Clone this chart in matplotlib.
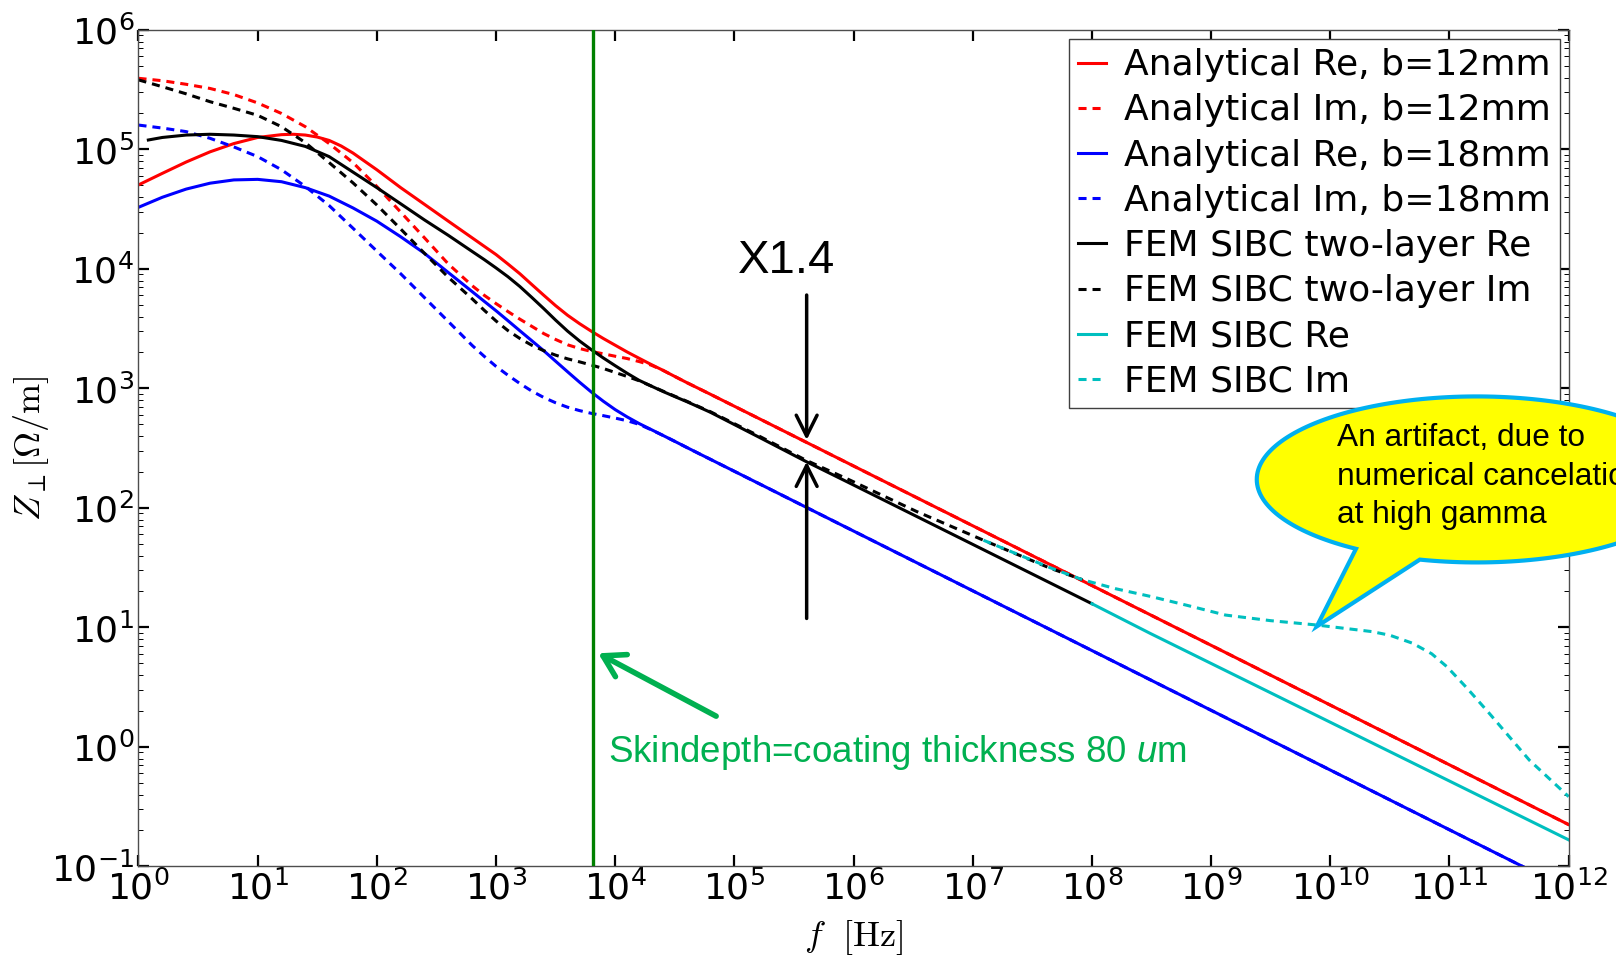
import numpy as np
import matplotlib
matplotlib.use("Agg")
import matplotlib.pyplot as plt
from matplotlib.path import Path
from matplotlib.patches import PathPatch
from matplotlib.ticker import NullLocator
from matplotlib.transforms import Affine2D

plt.rcParams["font.family"] = ["DejaVu Sans"]
plt.rcParams["lines.scale_dashes"] = False
plt.rcParams["mathtext.rm"] = "Liberation Sans"
plt.rcParams["mathtext.it"] = "Liberation Sans:italic"

# --- data (f in Hz, Z in Ohm/m) ---
# frequencies at which the analytical curves were read
f_ana = [1, 1.585, 2.512, 3.981, 6.31, 10, 15.85, 25.12, 39.81, 63.1, 100, 158.5,
         251.2, 398.1, 631, 794.3, 1000, 1259, 1585, 1995, 2512, 3162, 3981, 5012,
         6310, 7943, 10000, 12590, 15850, 19950, 25120, 31620, 39810, 50120, 63100,
         158500, 1e12]

f_red_re = [1, 1.585, 2.512, 3.981, 6.31, 10, 15.85, 19.95, 25.12, 31.62, 39.81,
            50.12, 63.1, 79.43, 100, 158.5, 251.2, 398.1, 631, 794.3, 1000, 1259,
            1585, 1995, 2512, 3162, 3981, 5012, 6310, 7943, 10000, 12590, 15850,
            19950, 25120, 31620, 39810, 50120, 63100, 158500, 1e12]
z_red_re = [50500, 63100, 78500, 95500, 112000, 126000, 133000, 134000, 132000,
            127000, 119000, 107000, 93300, 79400, 67600, 47900, 34700, 25100,
            18200, 15500, 13200, 11000, 9120, 7410, 6030, 4930, 4100, 3490, 3010,
            2620, 2300, 2020, 1790, 1590, 1420, 1260, 1120, 1000, 893, 564, 0.224]

z_red_im = [394000, 376000, 351000, 324000, 288000, 245000, 200000, 155000, 112000,
            77600, 49000, 29900, 18200, 11000, 7240, 6030, 5130, 4400, 3800, 3310,
            2880, 2570, 2320, 2160, 2040, 1950, 1860, 1780, 1680, 1570, 1420, 1260,
            1120, 1000, 893, 564, 0.224]
z_blue_re = [32800, 39800, 46600, 52200, 55600, 56200, 53700, 47900, 40700, 32400,
             25100, 18600, 13500, 9330, 6460, 5370, 4470, 3690, 3040, 2510, 2070,
             1690, 1380, 1130, 933, 782, 665, 578, 509, 454, 405, 361, 321, 286,
             255, 161, 0.0641]
z_blue_im = [160000, 151000, 141000, 124000, 105000, 87100, 67600, 49000, 33900,
             21900, 14100, 9120, 5750, 3630, 2290, 1860, 1530, 1290, 1100, 951, 841,
             759, 697, 653, 619, 592, 565, 537, 501, 452, 405, 361, 321, 286, 255,
             161, 0.0641]

f_fem2_re = [1.21, 1.585, 2.512, 3.981, 6.31, 10, 15.85, 25.12, 39.81, 63.1, 100,
             158.5, 251.2, 398.1, 631, 794.3, 1000, 1259, 1585, 1995, 2512, 3162,
             3981, 5012, 6310, 7943, 10000, 12590, 15850, 19950, 25120, 31620,
             39810, 50120, 63100, 158500, 398100, 933000, 1e8]
z_fem2_re = [120000, 126000, 132000, 134000, 132000, 128000, 119000, 106000, 87100,
             64600, 47900, 35100, 25700, 19100, 14000, 12000, 10200, 8610, 7130,
             5780, 4660, 3730, 3020, 2500, 2110, 1800, 1550, 1340, 1170, 1050, 944,
             855, 776, 700, 631, 394, 245, 161, 15.8]

f_fem2_im = [1, 1.585, 2.512, 3.981, 6.31, 10, 15.85, 25.12, 39.81, 63.1, 100,
             158.5, 251.2, 398.1, 631, 794.3, 1000, 1259, 1585, 1995, 2512, 3162,
             3981, 5012, 6310, 7943, 10000, 12590, 15850, 19950, 25120, 31620,
             39810, 50120, 63100, 158500, 398100, 933000, 3.39e6, 1.23e7, 4.47e7,
             8.32e7]
z_fem2_im = [382000, 335000, 292000, 251000, 221000, 193000, 155000, 114000, 77600,
             52500, 34300, 21600, 13500, 8510, 5620, 4520, 3670, 3050, 2620, 2300,
             2070, 1900, 1770, 1670, 1570, 1470, 1360, 1260, 1160, 1050, 951, 861,
             782, 706, 638, 403, 251, 171, 93.3, 53.7, 31.3, 25.1]

f_fem_re = [1e8, 3.09e8, 1e12]
z_fem_re = [15.8, 8.91, 0.167]

f_fem_im = [1.23e7, 4.47e7, 8.32e7, 1.58e8, 3.09e8, 6.31e8, 1.32e9, 3.16e9, 7.59e9,
            2.24e10, 3.16e10, 4.90e10, 7.08e10, 9.55e10, 1.41e11, 2.14e11, 4.68e11,
            1e12]
z_fem_im = [53.7, 31.6, 25.1, 21.1, 18.2, 15.3, 12.7, 11.4, 10.5, 9.23, 8.61, 7.38,
            6.03, 4.68, 3.09, 1.93, 0.776, 0.384]

f_skin = 6500            # skin depth = coating thickness
f_ratio = 4.04e5         # where the x1.4 gap is marked
z_ratio_top = [6050, 371]     # tail, head of the downward arrow
z_ratio_bot = [11.9, 244]     # tail, head of the upward arrow

series = [
    (f_red_re, z_red_re, "r", "-", "Analytical Re, b=12mm"),
    (f_ana, z_red_im, "r", "--", "Analytical Im, b=12mm"),
    (f_ana, z_blue_re, "b", "-", "Analytical Re, b=18mm"),
    (f_ana, z_blue_im, "b", "--", "Analytical Im, b=18mm"),
    (f_fem2_re, z_fem2_re, "k", "-", "FEM SIBC two-layer Re"),
    (f_fem2_im, z_fem2_im, "k", "--", "FEM SIBC two-layer Im"),
    (f_fem_re, z_fem_re, "c", "-", "FEM SIBC Re"),
    (f_fem_im, z_fem_im, "c", "--", "FEM SIBC Im"),
]

fig = plt.figure(figsize=(16.16, 9.57), dpi=100)
ax = fig.add_axes([0.0857, 0.0946, 0.8850, 0.8741])

for f, z, col, ls, lab in series:
    kw = dict(dashes=(5.8, 4.3)) if ls == "--" else {}
    ax.plot(f, z, color=col, lw=2.2, label=lab, **kw)

ax.set_xscale("log")
ax.set_yscale("log")
ax.set_xlim(1, 1e12)
ax.set_ylim(0.1, 1e6)
ax.set_xticks(10.0 ** np.arange(0, 13))
ax.xaxis.set_minor_locator(NullLocator())

ax.tick_params(which="both", direction="in", top=True, right=True)
ax.tick_params(which="major", length=8, width=1.6, labelsize=26, pad=3)
ax.tick_params(which="minor", length=3.5, width=0.7)
for sp in ax.spines.values():
    sp.set_linewidth(1.0)
    sp.set_color("0.3")

ax.set_xlabel(r"$f\ \ [\mathrm{Hz}]$", fontsize=26, math_fontfamily="cm", labelpad=8)
ax.set_ylabel(r"$Z_\perp[\Omega/\mathrm{m}]$", fontsize=26, math_fontfamily="cm", labelpad=0)

ax.axvline(f_skin, color="green", lw=2.4, zorder=5)

leg = ax.legend(loc="upper right", bbox_to_anchor=(0.994, 0.989), borderaxespad=0,
                fontsize=26, handlelength=0.77, handletextpad=0.5, labelspacing=0.31,
                borderpad=0.25, fancybox=False, framealpha=1)
leg.get_frame().set_edgecolor("0.25")
leg.get_frame().set_linewidth(1.0)

# x1.4 gap marker
arrow_kw = dict(arrowstyle="->,head_length=0.5,head_width=0.25", lw=2.5,
                color="k", mutation_scale=30, shrinkA=0, shrinkB=0)
ax.annotate("", xy=(f_ratio, z_ratio_top[1]), xytext=(f_ratio, z_ratio_top[0]),
            arrowprops=arrow_kw)
ax.annotate("", xy=(f_ratio, z_ratio_bot[1]), xytext=(f_ratio, z_ratio_bot[0]),
            arrowprops=arrow_kw)
ax.text(2.74e5, 9200, "X1.4", fontsize=34, family="Liberation Sans",
        ha="center", va="baseline")

# skin depth annotation
ax.annotate("", xy=(7200, 6.08), xytext=(70300, 1.81),
            arrowprops=dict(arrowstyle="->,head_length=0.5,head_width=0.3", lw=4,
                            color="#00B050", mutation_scale=30, shrinkA=0, shrinkB=0))
ax.text(8700, 0.753, r"Skindepth=coating thickness 80 $\mathit{u}$m", fontsize=26.5,
        family="Liberation Sans", color="#00B050", math_fontfamily="custom",
        va="baseline", ha="left")

# speech-bubble callout pointing at the artifact (offsets in pixels from its tip)
tip_x, tip_y = ax.transData.transform((7.7e9, 10.2))
cx, cy, a, b = 160.0, 147.0, 220.0, 83.0
t = np.radians(np.linspace(255, 236.7 + 360, 200))
verts = [(cx + a * np.cos(v), cy + b * np.sin(v)) for v in t]
verts += [(0, 0), verts[0]]
codes = [Path.MOVETO] + [Path.LINETO] * (len(verts) - 2) + [Path.CLOSEPOLY]
bubble = PathPatch(Path(verts, codes), facecolor="#FFFF00", edgecolor="#00B0F0",
                   lw=3, joinstyle="miter")
bubble.set_transform(Affine2D().translate(tip_x, tip_y))
fig.add_artist(bubble)
lines = ["An artifact, due to", "numerical cancelation", "at high gamma"]
for dy, line in zip([180, 141.6, 103.3], lines):
    fig.text(0, 0, line, fontsize=22.8, family="Liberation Sans", va="baseline", ha="left",
             transform=Affine2D().translate(tip_x + 20, tip_y + dy), zorder=5)

fig.savefig("out.png", dpi=100)
